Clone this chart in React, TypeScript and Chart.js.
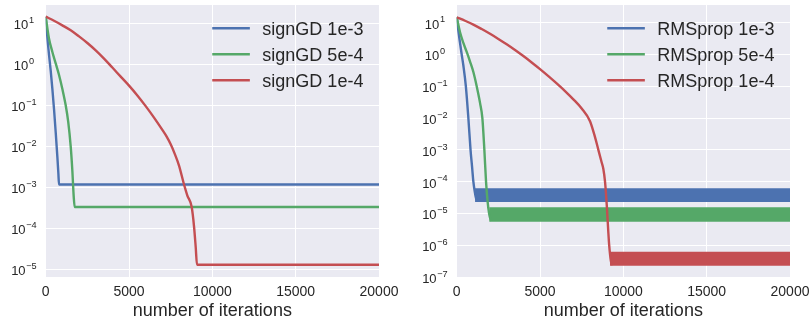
import React, { useEffect, useRef } from "react";
import { Chart, registerables } from "chart.js";

Chart.register(...registerables);

const FONT = '"Liberation Sans", Arial, Helvetica, sans-serif';
const COLORS = ["#4C72B0", "#55A868", "#C44E52"];
const AXES_BG = "#EAEAF2";
const TEXT_COLOR = "#262626";

const X_TICKS = [0, 5000, 10000, 15000, 20000];
const X_MAX = 20000;
const X_TITLE = "number of iterations";

// ---- signGD panel ----
const SIGNGD_LABELS = ["signGD 1e-3", "signGD 5e-4", "signGD 1e-4"];
const SIGNGD_1E3_ITER = [0, 100, 200, 300, 400, 500, 600, 700, 760, 800, 20000];
const SIGNGD_1E3_LOSS = [14.5, 4.5, 1.7, 0.7, 0.25, 0.08, 0.022, 0.0055, 0.0022, 0.00117, 0.00117];
const SIGNGD_5E4_ITER = [0, 200, 400, 600, 800, 1000, 1200, 1350, 1500, 1600, 1680, 1740, 20000];
const SIGNGD_5E4_LOSS = [14.5, 4.2, 2.0, 1.05, 0.55, 0.25, 0.1, 0.04, 0.01, 0.0025, 0.0006, 0.00033, 0.00033];
const SIGNGD_1E4_ITER = [0, 500, 1000, 1500, 2000, 2500, 3000, 3500, 4000, 4500, 5000, 5500, 6000, 6500, 7000, 7250, 7500, 7750, 8000, 8300, 8500, 8760, 8900, 9000, 9080, 20000];
const SIGNGD_1E4_LOSS = [14.5, 11.5, 8.9, 6.76, 4.79, 3.31, 2.19, 1.38, 0.832, 0.501, 0.302, 0.174, 0.0955, 0.0501, 0.0251, 0.0174, 0.0112, 0.00646, 0.00339, 0.00117, 0.000631, 0.00033, 0.000112, 0.0000355, 0.0000129, 0.0000129];
const SIGNGD_Y_EXPONENTS = [1, 0, -1, -2, -3, -4, -5];

// ---- RMSprop panel ----
const RMSPROP_LABELS = ["RMSprop 1e-3", "RMSprop 5e-4", "RMSprop 1e-4"];
const RMSPROP_1E3_ITER = [0, 100, 200, 300, 400, 550, 700, 830, 920, 1000, 1080, 1160, 1250];
const RMSPROP_1E3_LOSS = [15, 5.5, 2.3, 1.0, 0.45, 0.1, 0.01, 0.001, 0.0003, 0.0001, 0.00005, 0.00003, 0.000024];
const RMSPROP_5E4_ITER = [0, 200, 400, 600, 800, 1000, 1200, 1400, 1540, 1660, 1760, 1850, 1950, 2060];
const RMSPROP_5E4_LOSS = [15, 5, 2.3, 1.2, 0.6, 0.28, 0.1, 0.03, 0.01, 0.001, 0.0001, 0.000025, 0.0000095, 0.0000058];
const RMSPROP_1E4_ITER = [0, 500, 1000, 1500, 2000, 2500, 3000, 3500, 4000, 4500, 5000, 5500, 6000, 6500, 7000, 7500, 8000, 8300, 8500, 8700, 8800, 8900, 9000, 9100, 9150, 9250, 9320];
const RMSPROP_1E4_LOSS = [14.8, 11.5, 8.7, 6.3, 4.47, 3.09, 2.09, 1.38, 0.891, 0.562, 0.347, 0.209, 0.123, 0.0708, 0.0389, 0.02, 0.00794, 0.00251, 0.001, 0.000398, 0.000251, 0.0001, 0.00002, 0.0000025, 0.000001, 0.00000032, 0.000000235];
// oscillation envelope (upper / lower) after convergence
const RMSPROP_BAND_START = [1100, 1950, 9200];
const RMSPROP_BAND_UPPER = [6.2e-5, 1.57e-5, 6.2e-7];
const RMSPROP_BAND_LOWER = [2.3e-5, 5.5e-6, 2.25e-7];
const RMSPROP_Y_EXPONENTS = [1, 0, -1, -2, -3, -4, -5, -6, -7];

type Panel = {
  left: number;
  width: number;
  plotLeft: number;
  plotRight: number;
  yMin: number;
  yMax: number;
  yExps: number[];
  labels: string[];
  iters: number[][];
  losses: number[][];
  bandStart?: number[];
  bandUpper?: number[];
  bandLower?: number[];
};

const HEIGHT = 322;
const PLOT_TOP = 5;
const PLOT_BOTTOM = 277;

const PANELS: Panel[] = [
  {
    left: 0,
    width: 404,
    plotLeft: 45.7,
    plotRight: 379,
    yMin: 6.5e-6,
    yMax: 27.9,
    yExps: SIGNGD_Y_EXPONENTS,
    labels: SIGNGD_LABELS,
    iters: [SIGNGD_1E3_ITER, SIGNGD_5E4_ITER, SIGNGD_1E4_ITER],
    losses: [SIGNGD_1E3_LOSS, SIGNGD_5E4_LOSS, SIGNGD_1E4_LOSS],
  },
  {
    left: 404,
    width: 405,
    plotLeft: 52.7,
    plotRight: 386,
    yMin: 1e-7,
    yMax: 36,
    yExps: RMSPROP_Y_EXPONENTS,
    labels: RMSPROP_LABELS,
    iters: [RMSPROP_1E3_ITER, RMSPROP_5E4_ITER, RMSPROP_1E4_ITER],
    losses: [RMSPROP_1E3_LOSS, RMSPROP_5E4_LOSS, RMSPROP_1E4_LOSS],
    bandStart: RMSPROP_BAND_START,
    bandUpper: RMSPROP_BAND_UPPER,
    bandLower: RMSPROP_BAND_LOWER,
  },
];

function LossChart({ panel }: { panel: Panel }) {
  const ref = useRef<HTMLCanvasElement>(null);

  useEffect(() => {
    const canvas = ref.current;
    if (!canvas) return;
    const datasets: any[] = [];
    panel.labels.forEach((label, i) => {
      const color = COLORS[i];
      const order = panel.labels.length - i;
      datasets.push({
        label,
        data: panel.iters[i].map((x, k) => ({ x, y: panel.losses[i][k] })),
        borderColor: color,
        backgroundColor: color,
        borderWidth: 2.4,
        pointRadius: 0,
        fill: false,
        cubicInterpolationMode: "monotone",
        borderJoinStyle: "round",
        order,
      });
      if (panel.bandStart && panel.bandUpper && panel.bandLower) {
        const xs = [panel.bandStart[i], X_MAX];
        datasets.push({
          label: "",
          data: xs.map((x) => ({ x, y: panel.bandUpper![i] })),
          borderColor: "rgba(0,0,0,0)",
          borderWidth: 1,
          pointRadius: 0,
          fill: false,
          order,
        });
        datasets.push({
          label: "",
          data: xs.map((x) => ({ x, y: panel.bandLower![i] })),
          borderColor: "rgba(0,0,0,0)",
          backgroundColor: color,
          borderWidth: 1,
          pointRadius: 0,
          fill: "-1",
          order,
        });
      }
    });

    const decor = {
      id: "decor",
      beforeDraw(chart: any) {
        const { ctx, chartArea } = chart;
        ctx.save();
        ctx.fillStyle = AXES_BG;
        ctx.fillRect(chartArea.left, chartArea.top, chartArea.right - chartArea.left, chartArea.bottom - chartArea.top);
        ctx.restore();
      },
      afterDraw(chart: any) {
        const { ctx, chartArea } = chart;
        const xs = chart.scales.x;
        const ys = chart.scales.y;
        ctx.save();
        ctx.fillStyle = TEXT_COLOR;
        // y tick labels 10^e
        const cx = chartArea.left - 21.8;
        ctx.textAlign = "left";
        ctx.textBaseline = "alphabetic";
        for (const e of panel.yExps) {
          const y = ys.getPixelForValue(Math.pow(10, e));
          const base = "10";
          const exp = (e < 0 ? "\u2212" : "") + Math.abs(e);
          ctx.font = `13px ${FONT}`;
          const wb = ctx.measureText(base).width;
          ctx.font = `9.2px ${FONT}`;
          const we = ctx.measureText(exp).width;
          const x0 = cx - (wb + we + 0.6) / 2;
          ctx.font = `13px ${FONT}`;
          ctx.fillText(base, x0, y + 6);
          ctx.font = `9.2px ${FONT}`;
          ctx.fillText(exp, x0 + wb + 0.6, y - 0.2);
        }
        // x tick labels
        ctx.font = `14px ${FONT}`;
        ctx.textAlign = "center";
        for (const v of X_TICKS) {
          ctx.fillText(String(v), xs.getPixelForValue(v), 296.3);
        }
        // x title
        ctx.font = `18px ${FONT}`;
        ctx.fillText(X_TITLE, (chartArea.left + chartArea.right) / 2, 316);
        // legend
        ctx.font = `18px ${FONT}`;
        ctx.textAlign = "left";
        let maxW = 0;
        for (const l of panel.labels) maxW = Math.max(maxW, ctx.measureText(l).width);
        const textLeft = chartArea.right - 15.6 - maxW;
        const lineRight = textLeft - 12.5;
        const lineLeft = lineRight - 37.6;
        panel.labels.forEach((l, i) => {
          const ry = 28.3 + i * 26;
          ctx.strokeStyle = COLORS[i];
          ctx.lineWidth = 2.4;
          ctx.lineCap = "butt";
          ctx.beginPath();
          ctx.moveTo(lineLeft, ry);
          ctx.lineTo(lineRight, ry);
          ctx.stroke();
          ctx.fillStyle = TEXT_COLOR;
          ctx.fillText(l, textLeft, ry + 7);
        });
        ctx.restore();
      },
    };

    const chart = new Chart(canvas, {
      type: "line",
      data: { datasets },
      options: {
        responsive: false,
        animation: false,
        devicePixelRatio: 1,
        layout: {
          padding: { left: 0, right: panel.width - panel.plotRight, top: PLOT_TOP, bottom: 0 },
        },
        plugins: {
          legend: { display: false },
          tooltip: { enabled: false },
        },
        scales: {
          x: {
            type: "linear",
            min: 0,
            max: X_MAX,
            afterBuildTicks: (s: any) => {
              s.ticks = X_TICKS.map((v) => ({ value: v }));
            },
            afterFit: (s: any) => {
              s.height = HEIGHT - PLOT_BOTTOM;
            },
            grid: { color: "#ffffff", lineWidth: 1, drawTicks: false },
            border: { display: false },
            ticks: { display: false },
          },
          y: {
            type: "logarithmic",
            min: panel.yMin,
            max: panel.yMax,
            afterBuildTicks: (s: any) => {
              s.ticks = panel.yExps.map((e) => ({ value: Math.pow(10, e) }));
            },
            afterFit: (s: any) => {
              s.width = panel.plotLeft;
            },
            grid: { color: "#ffffff", lineWidth: 1, drawTicks: false },
            border: { display: false },
            ticks: { display: false },
          },
        },
      } as any,
      plugins: [decor],
    });
    return () => chart.destroy();
  }, [panel]);

  return (
    <canvas
      ref={ref}
      width={panel.width}
      height={HEIGHT}
      style={{ position: "absolute", left: panel.left, top: 0, width: panel.width, height: HEIGHT }}
    />
  );
}

export default function App() {
  return (
    <div style={{ position: "absolute", left: 0, top: 0, width: 809, height: HEIGHT, background: "#ffffff" }}>
      {PANELS.map((p, i) => (
        <LossChart key={i} panel={p} />
      ))}
    </div>
  );
}
